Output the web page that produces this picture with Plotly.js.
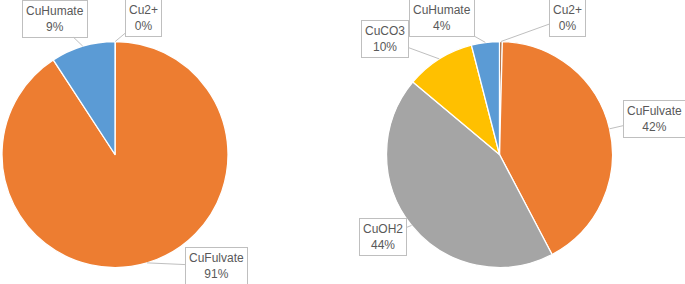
<!DOCTYPE html>
<html>
<head>
<meta charset="utf-8">
<script src="https://cdn.plot.ly/plotly-3.0.1.min.js"></script>
<style>html,body{margin:0;padding:0;background:#fff;}#chart{width:685px;height:284px;}</style>
</head>
<body>
<div id="chart"></div>
<script>
// ---- data ----
const leftLabels = ["Cu2+", "CuFulvate", "CuHumate"];
const leftValues = [0.05, 90.75, 9.2];
const rightLabels = ["Cu2+", "CuFulvate", "CuOH2", "CuCO3", "CuHumate"];
const rightValues = [0.4, 41.9, 43.8, 9.9, 4.0];

// ---- styles / layout ----
const colorMap = {"Cu2+": "#9E480E", "CuFulvate": "#ED7D31", "CuOH2": "#A5A5A5", "CuCO3": "#FFC000", "CuHumate": "#5B9BD5"};
const W = 685, H = 284;
const pies = [
  {labels: leftLabels, values: leftValues, cx: 115, cy: 154.5, r: 113,
   boxes: {"Cu2+": [143.5, 18], "CuFulvate": [216.5, 266], "CuHumate": [54.5, 19]}},
  {labels: rightLabels, values: rightValues, cx: 499.5, cy: 154.5, r: 113,
   boxes: {"Cu2+": [567.5, 17.5], "CuFulvate": [654, 118.5], "CuOH2": [382.5, 237], "CuCO3": [385, 39], "CuHumate": [441.5, 17.5]}}
];

const traces = [];
const annotations = [];
pies.forEach(p => {
  traces.push({
    type: "pie",
    labels: p.labels,
    values: p.values,
    sort: false,
    direction: "clockwise",
    rotation: 0,
    textinfo: "none",
    hoverinfo: "label+percent",
    marker: {colors: p.labels.map(l => colorMap[l]), line: {color: "#FFFFFF", width: 1.3}},
    domain: {x: [(p.cx - p.r) / W, (p.cx + p.r) / W], y: [1 - (p.cy + p.r) / H, 1 - (p.cy - p.r) / H]}
  });
  const total = p.values.reduce((a, b) => a + b, 0);
  let cum = 0;
  p.labels.forEach((lab, i) => {
    const mid = (cum + p.values[i] / 2) / total * 2 * Math.PI;
    cum += p.values[i];
    const tx = p.cx + p.r * Math.sin(mid);
    const ty = p.cy - p.r * Math.cos(mid);
    const b = p.boxes[lab];
    const pct = Math.round(p.values[i] / total * 100);
    annotations.push({
      xref: "paper", yref: "paper",
      x: tx / W, y: 1 - ty / H,
      ax: b[0] - tx, ay: b[1] - ty,
      text: lab + "<br>" + pct + "%",
      showarrow: true, arrowhead: 0, arrowwidth: 1, arrowcolor: "#BFBFBF", standoff: 0,
      bordercolor: "#BFBFBF", borderwidth: 1, borderpad: 3, bgcolor: "#FFFFFF",
      font: {family: "Liberation Sans, Arial, sans-serif", size: 12, color: "#595959"},
      align: "center"
    });
  });
});

Plotly.newPlot("chart", traces, {
  width: W, height: H,
  margin: {l: 0, r: 0, t: 0, b: 0},
  showlegend: false,
  paper_bgcolor: "#FFFFFF",
  annotations: annotations
}, {displayModeBar: false, staticPlot: true});
</script>
</body>
</html>
